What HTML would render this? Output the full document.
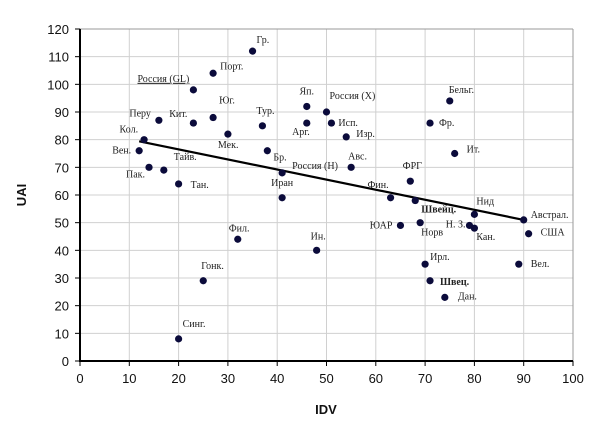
<!DOCTYPE html>
<html><head><meta charset="utf-8"><style>
body{margin:0;background:#fff}
svg{display:block;font-family:"Liberation Sans",sans-serif}
.lbl{font-family:"Liberation Serif",serif;font-size:10px;fill:#222}
.tk{font-size:13px;fill:#111}
</style></head><body>
<svg id="chart" width="603" height="439" xmlns="http://www.w3.org/2000/svg"></svg>
<script>
const countries=["Гр.","Порт.","Россия (GL)","Юг.","Кит.","Перу","Кол.","Вен.","Мек.","Тур.","Бр.","Пак.","Тайв.","Тан.","Россия (Н)","Иран","Яп.","Арг.","Россия (Х)","Исп.","Изр.","Авс.","Бельг.","Фр.","Ит.","ФРГ","Фин.","Швейц.","ЮАР","Норв","Н. З.","Нид","Кан.","Австрал.","США","Вел.","Ирл.","Швец.","Дан.","Ин.","Фил.","Гонк.","Синг."];
const idv=[35,27,23,27,23,16,13,12,30,37,38,14,17,20,41,41,46,46,50,51,54,55,75,71,76,67,63,68,65,69,79,80,80,90,91,89,70,71,74,48,32,25,20];
const uai=[112,104,98,88,86,87,80,76,82,85,76,70,69,64,68,59,92,86,90,86,81,70,94,86,75,65,59,58,49,50,49,53,48,51,46,35,35,29,23,40,44,29,8];
const trendX=[12,90];
const trendY=[79.4,51];
const xTicks=[0,10,20,30,40,50,60,70,80,90,100];
const yTicks=[0,10,20,30,40,50,60,70,80,90,100,110,120];
// label layout offsets (px): dx, dy, anchor
const labelLayout=[[4,-8,"s"],[7,-4,"s"],[-4,-8,"e"],[6,-14,"s"],[-6,-6,"e"],[-8,-4,"e"],[-6,-7,"e"],[-8,3,"e"],[-10,14,"s"],[-6,-12,"s"],[6,10,"s"],[-4,10,"e"],[10,-10,"s"],[12,4,"s"],[10,-4,"s"],[0,-12,"m"],[0,-12,"m"],[3,12,"e"],[3,-13,"s"],[7,3,"s"],[10,0,"s"],[-3,-8,"s"],[-1,-8,"s"],[9,3,"s"],[12,-1,"s"],[2,-12,"m"],[-2,-10,"e"],[6,12,"s"],[-8,3,"e"],[1,13,"s"],[-4,2,"e"],[2,-10,"s"],[2,12,"s"],[7,-2,"s"],[12,2,"s"],[12,3,"s"],[5,-4,"s"],[10,4,"s"],[13,2,"s"],[-6,-11,"s"],[-9,-8,"s"],[-2,-12,"s"],[4,-12,"s"]];
const bold=["Швейц.","Швец."];
const X0=80,X1=573,Y0=361,Y1=29;
const sx=v=>X0+(X1-X0)*v/100, sy=v=>Y0-(Y0-Y1)*v/120;
const svg=document.getElementById('chart');const NS="http://www.w3.org/2000/svg";
function mk(t,a,txt){const e=document.createElementNS(NS,t);for(const k in a)e.setAttribute(k,a[k]);if(txt!=null)e.textContent=txt;svg.appendChild(e);return e;}
xTicks.forEach(v=>{if(v>0){const g=mk('line',{x1:sx(v),x2:sx(v),y1:Y1,y2:Y0,stroke:'#d0d0d0','stroke-width':1});}
const t=mk('line',{x1:sx(v),x2:sx(v),y1:Y0,y2:Y0+5,stroke:'#000'});
const l=mk('text',{x:sx(v),y:Y0+22,'text-anchor':'middle',class:'tk'},v);});
yTicks.forEach(v=>{if(v>0){const g=mk('line',{x1:X0,x2:X1,y1:sy(v),y2:sy(v),stroke:v==120?'#999':'#d0d0d0','stroke-width':1});}
const t=mk('line',{x1:X0-5,x2:X0,y1:sy(v),y2:sy(v),stroke:'#000'});
const l=mk('text',{x:X0-11,y:sy(v)+5,'text-anchor':'end',class:'tk'},v);});
let e=mk('line',{x1:X1,x2:X1,y1:Y1,y2:Y0,stroke:'#999'});
e=mk('line',{x1:X0,x2:X0,y1:Y1,y2:Y0+1,stroke:'#000','stroke-width':2});
e=mk('line',{x1:X0,x2:X1,y1:Y0,y2:Y0,stroke:'#000','stroke-width':2});
e=mk('line',{x1:sx(trendX[0]),y1:sy(trendY[0]),x2:sx(trendX[1]),y2:sy(trendY[1]),stroke:'#000','stroke-width':2.2});
countries.forEach((c,i)=>{const px=sx(idv[i]),py=sy(uai[i]);
const p=mk('circle',{cx:px,cy:py,r:3.6,fill:'#0b0b3b'});
const L=labelLayout[i];const a={s:'start',e:'end',m:'middle'}[L[2]];
const t=mk('text',{x:px+L[0],y:py+L[1],'text-anchor':a,class:'lbl'},c);
if(bold.includes(c))t.setAttribute('font-weight','bold');
if(c==="Россия (GL)")t.setAttribute('text-decoration','underline');
});
e=mk('text',{x:326,y:414,'text-anchor':'middle',class:'tk','font-weight':'bold'},'IDV');
e=mk('text',{x:0,y:0,'text-anchor':'middle',class:'tk','font-weight':'bold',transform:'translate(26,195) rotate(-90)'},'UAI');
</script>
</body></html>
